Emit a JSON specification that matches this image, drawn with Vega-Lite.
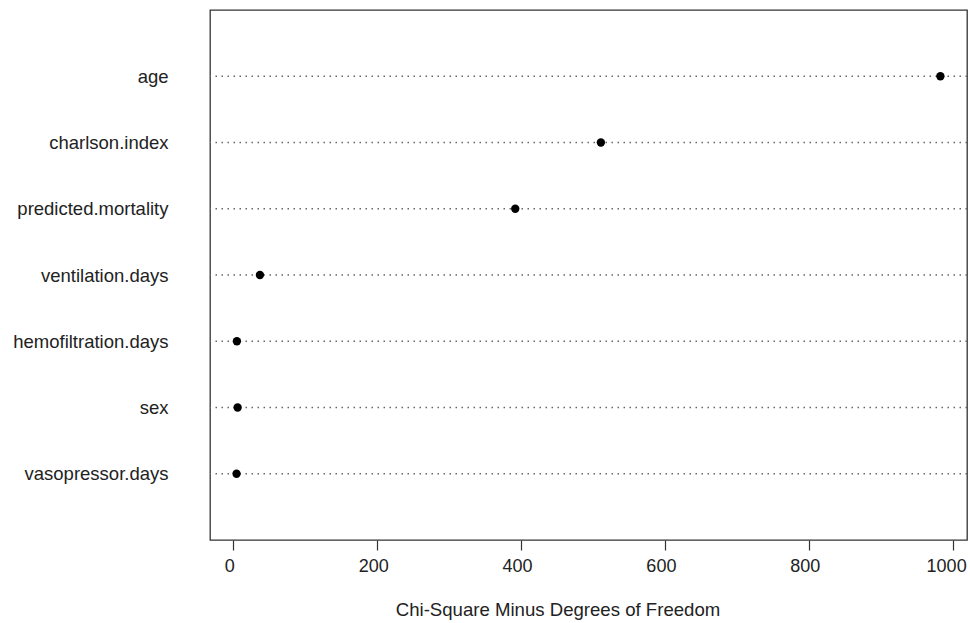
{
  "$schema": "https://vega.github.io/schema/vega-lite/v6.json",
  "autosize": "none",
  "width": 757,
  "height": 530,
  "padding": {"left": 210, "top": 10, "right": 3, "bottom": 83},
  "background": "white",
  "config": {
    "view": {"stroke": "#333", "strokeWidth": 1.3},
    "font": "Liberation Sans"
  },
  "data": {
    "values": [
      {"variable": "age", "value": 983},
      {"variable": "charlson.index", "value": 511},
      {"variable": "predicted.mortality", "value": 392},
      {"variable": "ventilation.days", "value": 37},
      {"variable": "hemofiltration.days", "value": 5},
      {"variable": "sex", "value": 6},
      {"variable": "vasopressor.days", "value": 4.5}
    ]
  },
  "encoding": {
    "y": {
      "field": "variable",
      "type": "nominal",
      "sort": null,
      "scale": {"type": "point", "padding": 1},
      "axis": {
        "title": null,
        "domain": false,
        "ticks": false,
        "grid": false,
        "labelFont": "Liberation Sans",
        "labelFontSize": 18.5,
        "labelColor": "#222",
        "labelPadding": 42,
        "labelAlign": "right"
      }
    }
  },
  "layer": [
    {
      "mark": {"type": "rule", "color": "#666", "strokeDash": [1.5, 4.5], "strokeWidth": 1.3},
      "encoding": {}
    },
    {
      "mark": {"type": "circle", "size": 70, "color": "black", "opacity": 1},
      "encoding": {
        "x": {
          "field": "value",
          "type": "quantitative",
          "scale": {"domain": [-32.4, 1020], "nice": false, "zero": false},
          "axis": {
            "values": [0, 200, 400, 600, 800, 1000],
            "format": "d",
            "grid": false,
            "domain": false,
            "tickColor": "#333",
            "tickSize": 10,
            "tickWidth": 1.2,
            "labelFont": "Liberation Sans",
            "labelFontSize": 18,
            "labelColor": "#222",
            "labelPadding": 7,
            "labelOffset": {"condition": {"test": "datum.value == 1000", "value": -6.5}, "value": -4},
            "title": "Chi-Square Minus Degrees of Freedom",
            "titleFont": "Liberation Sans",
            "titleFontSize": 18.6,
            "titleFontWeight": "normal",
            "titleColor": "#222",
            "titlePadding": 25,
            "titleX": 347.5,
            "titleAlign": "center"
          }
        }
      }
    }
  ]
}
